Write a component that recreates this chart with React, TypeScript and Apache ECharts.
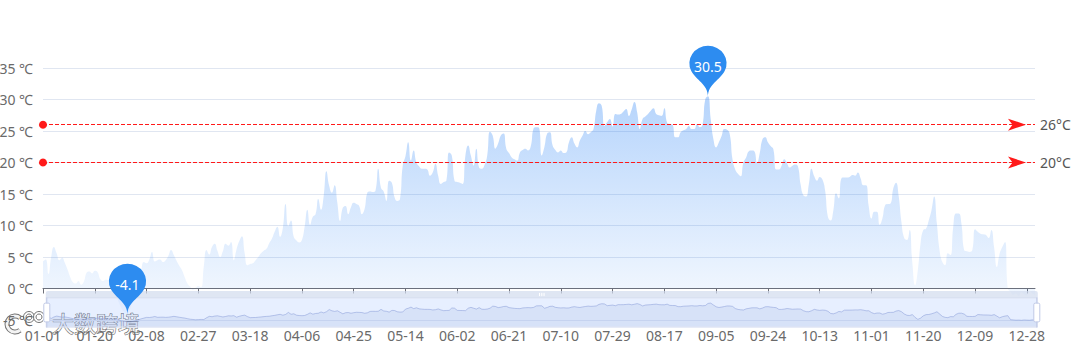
import React, { useEffect, useRef } from "react";
import * as echarts from "echarts";

// Daily temperatures (℃), one array per month (non-leap year)
const tempJan = [4.3, 4.6, 2.3, 5.0, 6.6, 5.6, 4.5, 4.9, 4.1, 3.0, 1.8, 1.0, 0.8, 1.2, 0.6, 1.1, 2.5, 2.7, 2.4, 2.8, 2.6, 1.5, 1.2, 1.4, 1.3, 1.0, 0.3, -1.2, -2.4, -3.3, -3.8];
const tempFeb = [-4.1, -3.2, -1.8, -0.2, 1.5, 2.9, 4.2, 4.0, 4.6, 5.8, 4.3, 4.5, 4.6, 4.2, 4.5, 5.2, 6.1, 5.3, 4.4, 3.6, 2.9, 1.8, 0.8, 0.3, -0.2, 0.1, 0.4, 0.2];
const tempMar = [3.5, 6.1, 5.4, 6.6, 7.1, 6.0, 5.0, 5.9, 7.1, 6.8, 7.4, 4.5, 6.2, 7.5, 8.3, 5.6, 3.7, 3.9, 4.0, 4.5, 5.0, 5.6, 6.0, 6.3, 7.2, 7.9, 9.0, 9.8, 8.2, 9.6, 13.4];
const tempApr = [9.9, 10.8, 8.2, 7.6, 7.3, 7.7, 9.8, 12.5, 10.1, 11.4, 11.8, 14.2, 12.5, 14.7, 18.6, 16.3, 15.2, 16.4, 13.6, 10.7, 12.8, 13.1, 11.8, 12.9, 13.6, 13.4, 13.1, 11.8, 12.6, 15.2];
const tempMay = [15.4, 15.3, 15.5, 19.0, 16.0, 15.4, 13.9, 17.1, 16.8, 14.5, 13.9, 14.2, 19.5, 21.0, 23.2, 20.3, 21.9, 20.0, 19.4, 19.0, 19.0, 18.9, 17.9, 18.4, 19.8, 17.9, 16.6, 16.9, 17.1, 21.6, 21.1];
const tempJun = [17.1, 16.9, 16.8, 16.6, 21.1, 22.7, 21.1, 19.5, 22.2, 19.2, 19.0, 19.6, 21.1, 24.9, 24.3, 22.2, 23.0, 24.3, 24.6, 22.2, 21.5, 20.8, 20.5, 20.3, 21.6, 22.0, 22.2, 21.9, 22.6, 25.4];
const tempJul = [25.6, 25.5, 21.1, 22.5, 24.6, 24.8, 22.7, 22.0, 21.6, 21.9, 21.5, 21.6, 23.2, 24.0, 23.0, 22.4, 23.5, 24.3, 25.0, 24.5, 24.8, 25.3, 28.2, 29.4, 29.0, 25.8, 26.4, 26.9, 25.7, 27.7, 27.6];
const tempAug = [27.7, 28.1, 28.5, 27.4, 28.4, 29.6, 28.0, 25.3, 26.9, 27.3, 27.7, 28.2, 28.6, 27.7, 27.5, 27.4, 28.6, 26.3, 26.1, 26.0, 24.0, 24.0, 24.8, 25.1, 25.3, 25.8, 25.3, 25.3, 26.1, 25.6, 26.0];
const tempSep = [30.0, 30.5, 26.9, 23.7, 22.4, 23.2, 24.2, 25.3, 25.2, 24.5, 20.5, 18.9, 18.2, 17.8, 20.0, 20.8, 21.8, 21.9, 21.8, 19.9, 21.5, 23.7, 24.0, 23.2, 22.6, 22.1, 18.9, 18.9, 19.5, 20.5];
const tempOct = [19.9, 19.2, 19.5, 19.7, 19.4, 16.5, 14.8, 14.6, 16.5, 19.0, 17.8, 17.1, 17.7, 17.3, 15.5, 11.4, 10.8, 12.4, 15.1, 14.3, 17.5, 17.6, 17.6, 17.7, 18.0, 17.9, 18.4, 17.5, 16.4, 16.4, 13.0];
const tempNov = [11.1, 12.2, 12.2, 10.1, 11.1, 13.2, 13.4, 13.5, 15.9, 16.8, 14.6, 10.5, 8.0, 7.7, 9.3, 4.0, 0.5, 2.9, 7.1, 9.3, 9.5, 10.8, 12.4, 14.6, 10.3, 6.0, 4.2, 3.7, 5.6, 5.3];
const tempDec = [9.8, 11.9, 11.9, 10.3, 6.1, 5.9, 5.8, 6.1, 9.4, 9.0, 8.7, 8.6, 8.5, 8.0, 9.3, 6.5, 3.4, 5.5, 6.6, 7.4, 0.0, -0.5, -1.0, -0.8, -1.2, -0.6, -0.9, -1.1, -0.4, -0.8, -1.0];

const monthTemps = [tempJan, tempFeb, tempMar, tempApr, tempMay, tempJun, tempJul, tempAug, tempSep, tempOct, tempNov, tempDec];
const thresholdLines = [26, 20];
const yMin = -5;
const yMax = 35;
const yStep = 5;
const watermarkText = "大数跨境";

const pad = (n: number) => (n < 10 ? "0" + n : "" + n);

function buildSeries() {
  const dates: string[] = [];
  const values: number[] = [];
  monthTemps.forEach((arr, m) => {
    arr.forEach((v, d) => {
      dates.push(pad(m + 1) + "-" + pad(d + 1));
      values.push(v);
    });
  });
  return { dates, values };
}

export default function App() {
  const ref = useRef<HTMLDivElement>(null);

  useEffect(() => {
    document.body.style.margin = "0";
    if (!ref.current) return;
    const chart = echarts.init(ref.current, null, { renderer: "svg" });
    const { dates, values } = buildSeries();
    const lastIdx = dates.length - 1;
    const font = '"Noto Sans", "Noto Sans CJK SC", sans-serif';
    const ghost = "rgba(255,255,255,0.92)";
    const ghostStroke = "rgba(70,70,70,0.75)";

    chart.setOption({
      animation: false,
      textStyle: { fontFamily: font },
      grid: { left: 43, right: 45, top: 68, bottom: 23, containLabel: false, outerBoundsMode: "none" },
      xAxis: [
        {
          type: "category",
          data: dates,
          boundaryGap: false,
          axisLine: { onZero: true, lineStyle: { color: "#6e7079" } },
          axisTick: { show: true, interval: 18, length: 5, lineStyle: { color: "#6e7079" } },
          axisLabel: { show: false },
          splitLine: { show: false },
        },
        {
          type: "category",
          data: dates,
          boundaryGap: false,
          position: "bottom",
          z: 10,
          axisLine: { show: false, onZero: false },
          axisTick: { show: false },
          axisLabel: { interval: 18, fontSize: 14, color: "#6a6a6a", margin: 8 },
          splitLine: { show: false },
        },
      ],
      yAxis: {
        type: "value",
        min: yMin,
        max: yMax,
        interval: yStep,
        axisLine: { show: false },
        axisTick: { show: false },
        axisLabel: { formatter: "{value} ℃", fontSize: 14, color: "#6a6a6a", margin: 10 },
        splitLine: { lineStyle: { color: "#e0e6f1" } },
      },
      dataZoom: [
        {
          type: "slider",
          start: 0,
          end: 100,
          xAxisIndex: [0, 1],
          moveHandleStyle: { color: "#D2DBEE", opacity: 0.7 },
        },
      ],
      series: [
        {
          type: "line",
          xAxisIndex: 0,
          data: values,
          smooth: true,
          symbol: "none",
          lineStyle: { width: 0 },
          itemStyle: { color: "#2d8cf0" },
          areaStyle: {
            color: new echarts.graphic.LinearGradient(0, 0, 0, 1, [
              { offset: 0, color: "rgba(24,120,245,0.45)" },
              { offset: 1, color: "rgba(24,120,245,0.05)" },
            ]),
          },
          markPoint: {
            symbol: "pin",
            symbolSize: [62, 58],
            itemStyle: { color: "#2d8cf0", borderWidth: 0 },
            label: { color: "#fff", fontSize: 14 },
            data: [
              { type: "max", name: "最大值" },
              { type: "min", name: "最小值" },
            ],
          },
          markLine: {
            silent: true,
            lineStyle: { color: "#ff1a1a", type: "dashed", width: 1 },
            label: { position: "end", formatter: "{c}°C", color: "#555", fontSize: 14 },
            data: thresholdLines.map((v) => [
              { coord: [0, v], value: v, symbol: "circle", symbolSize: 8 },
              { coord: [lastIdx, v], value: v, symbol: "arrow", symbolSize: [9, 18], symbolOffset: [0, 9] },
            ]),
          },
        },
      ],
      graphic: [
        {
          type: "group",
          z: 100,
          children: [
            { type: "arc", shape: { cx: 15, cy: 324, r: 8, startAngle: 0.9, endAngle: 5.4 }, style: { stroke: ghostStroke, lineWidth: 5, fill: "none" } },
            { type: "arc", shape: { cx: 15, cy: 324, r: 8, startAngle: 0.9, endAngle: 5.4 }, style: { stroke: ghost, lineWidth: 3, fill: "none" } },
            { type: "ring", shape: { cx: 29, cy: 317, r: 5.5, r0: 3 }, style: { fill: ghost, stroke: ghostStroke, lineWidth: 1 } },
            { type: "ring", shape: { cx: 39, cy: 317, r: 5.5, r0: 3 }, style: { fill: ghost, stroke: ghostStroke, lineWidth: 1 } },
            {
              type: "text",
              x: 52,
              y: 311,
              style: { text: watermarkText, fontSize: 22, fontFamily: '"Noto Sans CJK SC", sans-serif', fill: ghost, stroke: ghostStroke, lineWidth: 1.2 },
            },
          ],
        },
      ],
    });

    return () => chart.dispose();
  }, []);

  return <div ref={ref} style={{ width: 1080, height: 343 }} />;
}
